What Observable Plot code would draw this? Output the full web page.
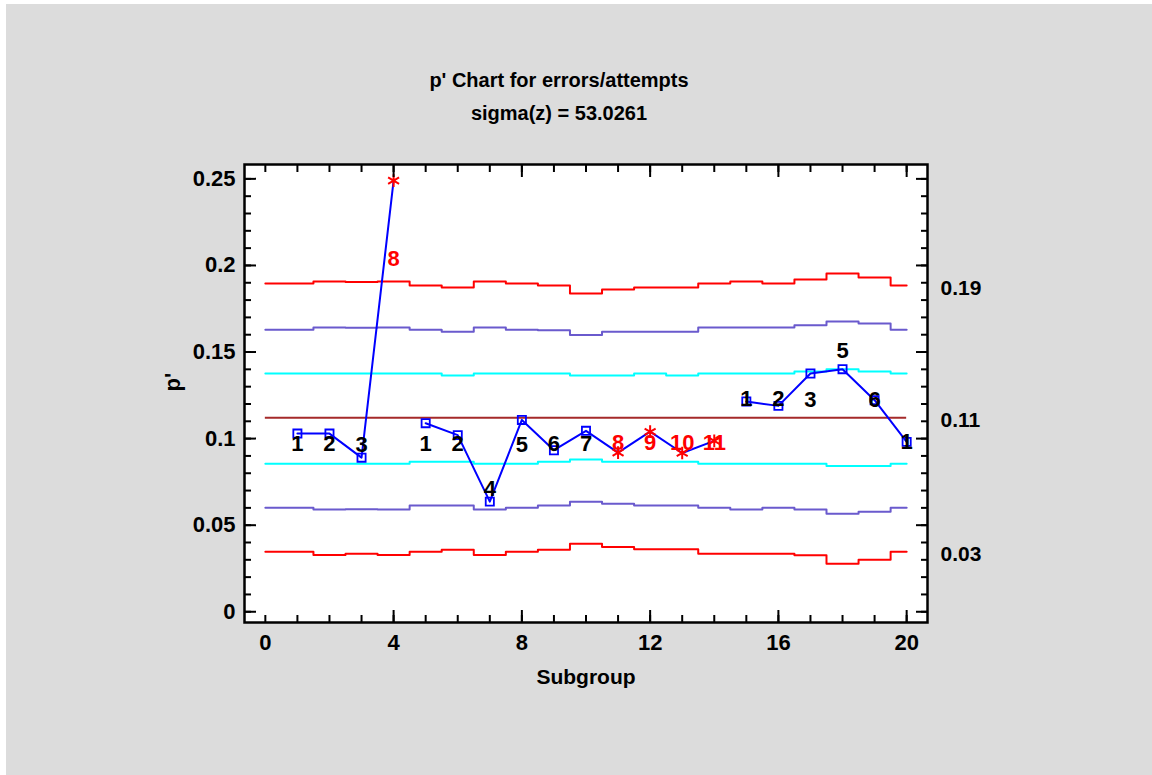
<!DOCTYPE html>
<html>
<head>
<meta charset="utf-8">
<script src="https://cdn.jsdelivr.net/npm/d3@7"></script>
<script src="https://cdn.jsdelivr.net/npm/@observablehq/plot@0.6"></script>
<style>
  html, body { margin: 0; padding: 0; background: #ffffff; width: 1152px; height: 775px; overflow: hidden; }
  #panel { position: absolute; left: 6px; top: 4px; width: 1146px; height: 771px; background: #dcdcdc; }
  #chart { position: absolute; left: 0; top: 0; }
  .title { position: absolute; left: 259px; width: 600px; text-align: center; white-space: nowrap;
           font-family: "Liberation Sans", Arial, sans-serif; font-weight: bold; font-size: 20px; line-height: 20px; color: #000; }
</style>
</head>
<body>
<div id="panel"></div>
<div id="chart"></div>
<div class="title" id="t1" style="top:70px"></div>
<div class="title" id="t2" style="top:103px"></div>
<script>
// ---- data ----
const titleText = "p' Chart for errors/attempts";
const subtitleText = "sigma(z) = 53.0261";
const xLabel = "Subgroup";
const yLabel = "p'";

const subgroups = [1, 2, 3, 4, 5, 6, 7, 8, 9, 10, 11, 12, 13, 14, 15, 16, 17, 18, 19, 20];
const pValues   = [0.1029, 0.1029, 0.0890, 0.2490, 0.1089, 0.1020, 0.0636, 0.1108, 0.0933, 0.1045,
                   0.0919, 0.1040, 0.0917, 0.0987, 0.1214, 0.1189, 0.1376, 0.1401, 0.1222, 0.0981];
const segment   = [1, 1, 1, 1, 2, 2, 2, 2, 2, 2, 2, 2, 2, 2, 3, 3, 3, 3, 3, 3];
const flagged   = [0, 0, 0, 1, 0, 0, 0, 0, 0, 0, 1, 1, 1, 1, 0, 0, 0, 0, 0, 0];
const pointLabels = ["1", "2", "3", "8", "1", "2", "4", "5", "6", "7", "8", "9", "10", "11", "1", "2", "3", "5", "6", "1"];
const labelY    = [0.0972, 0.0972, 0.0963, 0.2037, 0.0972, 0.0972, 0.0712, 0.0963, 0.0972, 0.0972,
                   0.0977, 0.0977, 0.0977, 0.0977, 0.1228, 0.1228, 0.1224, 0.1507, 0.1224, 0.0979];

const centerLine = 0.1121;
const ucl    = [0.1896, 0.1908, 0.1904, 0.1908, 0.1884, 0.1873, 0.1908, 0.1896, 0.1884, 0.1838,
                0.1861, 0.1873, 0.1873, 0.1896, 0.1908, 0.1896, 0.1919, 0.1954, 0.1931, 0.1884];
const upper2 = [0.1628, 0.1642, 0.1640, 0.1642, 0.1628, 0.1617, 0.1642, 0.1628, 0.1626, 0.1598,
                0.1617, 0.1617, 0.1617, 0.1642, 0.1642, 0.1642, 0.1655, 0.1676, 0.1665, 0.1628];
const upper1 = [0.1376, 0.1376, 0.1376, 0.1376, 0.1376, 0.1364, 0.1376, 0.1376, 0.1376, 0.1364,
                0.1364, 0.1376, 0.1364, 0.1376, 0.1376, 0.1376, 0.1387, 0.1401, 0.1387, 0.1376];
const lower1 = [0.0855, 0.0855, 0.0855, 0.0855, 0.0867, 0.0867, 0.0855, 0.0855, 0.0867, 0.0879,
                0.0867, 0.0867, 0.0867, 0.0855, 0.0855, 0.0855, 0.0855, 0.0842, 0.0842, 0.0855];
const lower2 = [0.0601, 0.0590, 0.0592, 0.0590, 0.0613, 0.0613, 0.0590, 0.0601, 0.0613, 0.0636,
                0.0624, 0.0613, 0.0613, 0.0601, 0.0590, 0.0601, 0.0590, 0.0566, 0.0578, 0.0601];
const lcl    = [0.0347, 0.0328, 0.0335, 0.0328, 0.0347, 0.0358, 0.0328, 0.0347, 0.0358, 0.0393,
                0.0374, 0.0361, 0.0361, 0.0335, 0.0335, 0.0335, 0.0326, 0.0278, 0.0301, 0.0347];

const xLabelTicks = [0, 4, 8, 12, 16, 20];
const xTickLabels = ["0", "4", "8", "12", "16", "20"];
const xMajorTicks = [4, 8, 12, 16, 20];
const xMinorTicks = [0, 1, 2, 3, 4, 5, 6, 7, 8, 9, 10, 11, 12, 13, 14, 15, 16, 17, 18, 19, 20];
const yMajorTicks = [0, 0.05, 0.1, 0.15, 0.2, 0.25];
const yTickLabels = ["0", "0.05", "0.1", "0.15", "0.2", "0.25"];
const yMinorTicks = [0, 0.01, 0.02, 0.03, 0.04, 0.05, 0.06, 0.07, 0.08, 0.09, 0.1, 0.11, 0.12,
                     0.13, 0.14, 0.15, 0.16, 0.17, 0.18, 0.19, 0.2, 0.21, 0.22, 0.23, 0.24, 0.25];

// ---- build tables ----
const first = subgroups[0], last = subgroups[subgroups.length - 1];
function steps(vals) {
  const rows = vals.map((v, i) => ({x: i === 0 ? first - 1 : subgroups[i] - 0.5, y: v}));
  rows.push({x: last, y: vals[vals.length - 1]});
  return rows;
}
const points = subgroups.map((s, i) => ({
  s, p: pValues[i], seg: segment[i], flag: flagged[i] === 1, label: pointLabels[i], ly: labelY[i]
}));
const fmt2 = d3.format(".2f");
const rightLabels = [ucl[ucl.length - 1], centerLine, lcl[lcl.length - 1]].map(v => ({v, t: fmt2(v)}));

const FONT = "'Liberation Sans', Arial, sans-serif";
const RED = "#ff0000", PURPLE = "#6a5acd", CYAN = "#00ffff", BROWN = "#a52a2a", BLUE = "#0000ff";

document.getElementById("t1").textContent = titleText;
document.getElementById("t2").textContent = subtitleText;

const chart = Plot.plot({
  width: 1152, height: 775,
  marginLeft: 244, marginRight: 225, marginTop: 164, marginBottom: 153,
  style: `background: transparent; font-family: ${FONT}; font-weight: bold; font-size: 22px; color: black; overflow: visible;`,
  x: {domain: [-0.65, 20.65], axis: null},
  y: {domain: [-0.0062, 0.2583], axis: null},
  marks: [
    Plot.frame({fill: "white", stroke: null}),
    Plot.line(steps(ucl),    {x: "x", y: "y", curve: "step-after", stroke: RED, strokeWidth: 2}),
    Plot.line(steps(upper2), {x: "x", y: "y", curve: "step-after", stroke: PURPLE, strokeWidth: 2}),
    Plot.line(steps(upper1), {x: "x", y: "y", curve: "step-after", stroke: CYAN, strokeWidth: 2}),
    Plot.ruleY([centerLine], {x1: first - 1, x2: last, stroke: BROWN, strokeWidth: 2}),
    Plot.line(steps(lower1), {x: "x", y: "y", curve: "step-after", stroke: CYAN, strokeWidth: 2}),
    Plot.line(steps(lower2), {x: "x", y: "y", curve: "step-after", stroke: PURPLE, strokeWidth: 2}),
    Plot.line(steps(lcl),    {x: "x", y: "y", curve: "step-after", stroke: RED, strokeWidth: 2}),
    Plot.line(points, {x: "s", y: "p", z: "seg", stroke: BLUE, strokeWidth: 2}),
    Plot.dot(points.filter(d => !d.flag), {x: "s", y: "p", symbol: "square", r: 4.6, stroke: BLUE, strokeWidth: 1.8, fill: "none"}),
    Plot.dot(points.filter(d => d.flag), {x: "s", y: "p", symbol: "asterisk", r: 6, stroke: RED, strokeWidth: 2}),
    Plot.text(points, {x: "s", y: "ly", text: "label", fill: d => d.flag ? RED : "black",
                       fontSize: 22, fontWeight: "bold", fontFamily: FONT}),
    Plot.text(rightLabels, {y: "v", text: "t", frameAnchor: "right", textAnchor: "start", dx: 13, dy: 3,
                            fontSize: 21, fontWeight: "bold", fontFamily: FONT, fill: "black"}),
    // frame
    Plot.frame({stroke: "black", strokeWidth: 2.5}),
    // y axes
    Plot.axisY({anchor: "left", ticks: yMajorTicks, tickSize: 0, tickPadding: 9, label: null,
                tickFormat: d => yTickLabels[yMajorTicks.indexOf(d)], fontSize: 22, fontWeight: "bold", fontFamily: FONT, fill: "black"}),
    Plot.axisY({anchor: "left", ticks: yMajorTicks, tickSize: -12, tickFormat: () => "", label: null, strokeWidth: 2, stroke: "black"}),
    Plot.axisY({anchor: "left", ticks: yMinorTicks, tickSize: -7, tickFormat: () => "", label: null, strokeWidth: 2, stroke: "black"}),
    Plot.axisY({anchor: "right", ticks: yMajorTicks, tickSize: -12, tickFormat: () => "", label: null, strokeWidth: 2, stroke: "black"}),
    Plot.axisY({anchor: "right", ticks: yMinorTicks, tickSize: -7, tickFormat: () => "", label: null, strokeWidth: 2, stroke: "black"}),
    // x axes
    Plot.axisX({anchor: "bottom", ticks: xLabelTicks, tickSize: 0, tickPadding: 12, label: null,
                tickFormat: d => xTickLabels[xLabelTicks.indexOf(d)], fontSize: 22, fontWeight: "bold", fontFamily: FONT, fill: "black"}),
    Plot.axisX({anchor: "bottom", ticks: xMajorTicks, tickSize: -12, tickFormat: () => "", label: null, strokeWidth: 2, stroke: "black"}),
    Plot.axisX({anchor: "bottom", ticks: xMinorTicks, tickSize: -7, tickFormat: () => "", label: null, strokeWidth: 2, stroke: "black"}),
    Plot.axisX({anchor: "top", ticks: xMajorTicks, tickSize: -12, tickFormat: () => "", label: null, strokeWidth: 2, stroke: "black"}),
    Plot.axisX({anchor: "top", ticks: xMinorTicks, tickSize: -7, tickFormat: () => "", label: null, strokeWidth: 2, stroke: "black"}),
    // axis titles
    Plot.text([xLabel], {frameAnchor: "bottom", dy: 61, text: d => d, fontSize: 21, fontWeight: "bold", fontFamily: FONT, fill: "black"}),
    Plot.text([yLabel], {frameAnchor: "left", dx: -72, dy: -2, rotate: -90, text: d => d, fontSize: 22, fontWeight: "bold", fontFamily: FONT, fill: "black"})
  ]
});
document.getElementById("chart").appendChild(chart);
</script>
</body>
</html>
